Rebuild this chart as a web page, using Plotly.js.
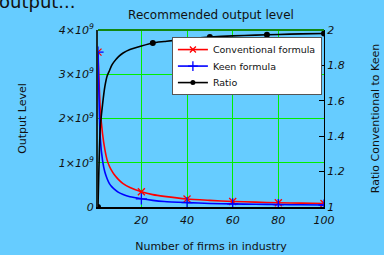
<!DOCTYPE html>
<html><head><meta charset="utf-8">
<script src="https://cdn.plot.ly/plotly-3.0.1.min.js"></script>
<style>html,body{margin:0;padding:0;background:#66CCFF;}#chart{width:384px;height:255px;}</style>
</head><body><div id="chart"></div>
<script>
// Number of firms
var nFirms = [1,2,3,4,5,6,7,8,10,12,15,20,25,30,40,50,60,70,80,90,100];
// Output per firm
var conventional = [3.5e9,2.2e9,1.65e9,1.3e9,1.06e9,0.92e9,0.82e9,0.74e9,0.62e9,0.53e9,0.44e9,0.345e9,0.28e9,0.24e9,0.18e9,0.15e9,0.125e9,0.11e9,0.095e9,0.088e9,0.08e9];
var keen = [3.5e9,1.55e9,1.05e9,0.79e9,0.64e9,0.53e9,0.46e9,0.41e9,0.33e9,0.28e9,0.23e9,0.185e9,0.15e9,0.125e9,0.1e9,0.08e9,0.07e9,0.062e9,0.055e9,0.05e9,0.045e9];
var ratio = [1,1.45,1.58,1.68,1.74,1.77,1.8,1.82,1.85,1.87,1.89,1.91,1.927,1.935,1.95,1.96,1.967,1.971,1.975,1.978,1.98];
// Points where symbols are drawn
var convMarkN = [1,20,40,60,80,100];
var convMark = [3.5e9,0.345e9,0.18e9,0.125e9,0.095e9,0.08e9];
var keenMarkN = [1,20,40,60,80,100];
var keenMark = [3.5e9,0.185e9,0.1e9,0.07e9,0.055e9,0.045e9];
var ratioMarkN = [1,25,50,75,100];
var ratioMark = [1,1.927,1.96,1.973,1.98];
// Ticks
var xTicks = [20,40,60,80,100];
var yTicks = [0,1e9,2e9,3e9,4e9];
var yTickText = ['0','1\u00d710<sup>9</sup>','2\u00d710<sup>9</sup>','3\u00d710<sup>9</sup>','4\u00d710<sup>9</sup>'];
var ratioTicks = [1,1.2,1.4,1.6,1.8,2];
var ratioTickText = ['1','1.2','1.4','1.6','1.8','2'];
var seriesNames = ['Conventional formula','Keen formula','Ratio'];

var FONT = 'DejaVu Sans, sans-serif';
var RED = '#FF0000', BLUE = '#0000FF', BLACK = '#000000';

var traces = [
  {x:nFirms, y:conventional, mode:'lines', line:{color:RED,width:1.6,shape:'spline',smoothing:0.6}, showlegend:false, hoverinfo:'skip'},
  {x:convMarkN, y:convMark, mode:'markers', marker:{symbol:'x-thin',size:7,color:RED,line:{color:RED,width:1.3}}, showlegend:false},
  {x:nFirms, y:keen, mode:'lines', line:{color:BLUE,width:1.6,shape:'spline',smoothing:0.6}, showlegend:false, hoverinfo:'skip'},
  {x:keenMarkN, y:keenMark, mode:'markers', marker:{symbol:'cross-thin',size:8,color:BLUE,line:{color:BLUE,width:1.3}}, showlegend:false},
  {x:nFirms, y:ratio, yaxis:'y2', mode:'lines', line:{color:BLACK,width:1.6,shape:'spline',smoothing:0.6}, showlegend:false, hoverinfo:'skip'},
  {x:ratioMarkN, y:ratioMark, yaxis:'y2', mode:'markers', marker:{symbol:'circle',size:6,color:BLACK}, showlegend:false},
  // legend entries
  {x:[null], y:[null], name:seriesNames[0], mode:'lines+markers', line:{color:RED,width:1.6}, marker:{symbol:'x-thin',size:6,color:RED,line:{color:RED,width:1.3}}},
  {x:[null], y:[null], name:seriesNames[1], mode:'lines+markers', line:{color:BLUE,width:1.6}, marker:{symbol:'cross-thin',size:7,color:BLUE,line:{color:BLUE,width:1.3}}},
  {x:[null], y:[null], name:seriesNames[2], mode:'lines+markers', line:{color:BLACK,width:1.6}, marker:{symbol:'circle',size:5,color:BLACK}}
];

var layout = {
  width:384, height:255,
  margin:{l:98, r:60, t:30, b:48, pad:0},
  paper_bgcolor:'#66CCFF', plot_bgcolor:'#66CCFF',
  font:{family:FONT, size:11, color:'#111'},
  title:{text:'Recommended output level', x:0.5495, xanchor:'center', y:0.941, yanchor:'middle', font:{family:FONT,size:12,color:'#111'}},
  xaxis:{range:[1,100], tickvals:xTicks, showgrid:true, gridcolor:'#00EE00', gridwidth:1,
    zeroline:false, showline:true, linecolor:'#000', linewidth:1.5, ticks:'', ticklabelstandoff:2,
    tickfont:{family:FONT,size:11,style:'italic',color:'#111'},
    title:{text:'Number of firms in industry', font:{family:FONT,size:11,color:'#111'}, standoff:16}},
  yaxis:{range:[0,4e9], tickvals:yTicks, ticktext:yTickText, showgrid:true, gridcolor:'#00EE00', gridwidth:1,
    zeroline:false, showline:true, linecolor:'#1a2a2a', linewidth:2, ticks:'',
    tickfont:{family:FONT,size:11,style:'italic',color:'#111'},
    title:{text:'Output Level', font:{family:FONT,size:11,color:'#111'}, standoff:30}},
  yaxis2:{overlaying:'y', side:'right', range:[1,2], tickvals:ratioTicks, ticktext:ratioTickText,
    showgrid:false, zeroline:false, showline:true, linecolor:'#000', linewidth:1,
    ticks:'inside', ticklen:5, tickcolor:'#000', tickwidth:1,
    tickfont:{family:FONT,size:11,style:'italic',color:'#111'},
    title:{text:'Ratio Conventional to Keen', font:{family:FONT,size:11,color:'#111'}, standoff:27}},
  legend:{x:0.327, y:0.96, xanchor:'left', yanchor:'top', bgcolor:'#FFFFFF', bordercolor:'#555', borderwidth:1,
    font:{family:FONT,size:9.5,color:'#111'}, tracegroupgap:0, itemwidth:30},
  shapes:[{type:'line', xref:'paper', yref:'paper', x0:0, x1:1, y0:1, y1:1, line:{color:'#118811', width:2}}],
  annotations:[{text:'output...', xref:'paper', yref:'paper', x:-0.447, y:1.09, xanchor:'left', yanchor:'bottom',
    showarrow:false, font:{family:FONT,size:18,color:'#111'}}]
};

Plotly.newPlot('chart', traces, layout, {displayModeBar:false, staticPlot:true}).then(function(gd){
  // tighten legend row spacing to match the reference
  try {
    var leg = gd.querySelector('.legend');
    if(!leg) return;
    var items = leg.querySelectorAll('.traces');
    if(items.length < 2) return;
    var pos = [];
    items.forEach(function(el){
      var m = /translate\(\s*([-\d.]+)[ ,]+([-\d.]+)\s*\)/.exec(el.getAttribute('transform')||'');
      pos.push(m ? [parseFloat(m[1]), parseFloat(m[2])] : null);
    });
    if(pos.some(function(p){return !p;})) return;
    var origStep = pos[1][1]-pos[0][1];
    var step = 16.5, shiftTop = 3;
    items.forEach(function(el,i){
      el.setAttribute('transform','translate('+pos[i][0]+','+(pos[0][1]-shiftTop+i*step)+')');
    });
    var reduce = (items.length-1)*(origStep-step) + 2*shiftTop;
    var bg = leg.querySelector('rect.bg');
    if(bg){ bg.setAttribute('height', parseFloat(bg.getAttribute('height'))-reduce); }
  } catch(e) {}
});
</script></body></html>
